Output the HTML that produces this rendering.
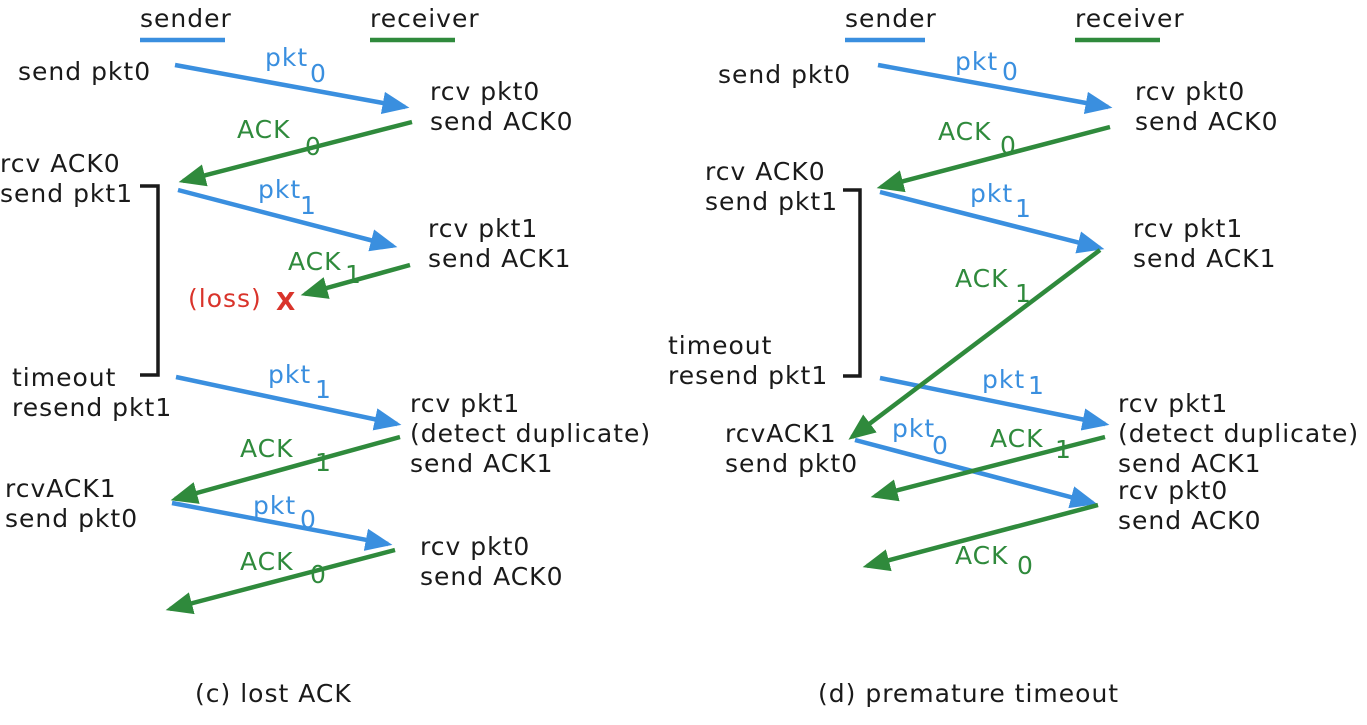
<!DOCTYPE html>
<html><head><meta charset="utf-8"><style>
html,body{margin:0;padding:0;background:#fff;}
svg text{font-family:"DejaVu Sans","Liberation Sans",sans-serif;font-size:25px;letter-spacing:1px;}
.k{fill:#1a1a1a}.b{fill:#3a8fdf}.g{fill:#2f8a3c}.r{fill:#d9342b}
</style></head><body>
<svg width="1367" height="720" viewBox="0 0 1367 720" xmlns="http://www.w3.org/2000/svg">
<defs>
<marker id="ab" markerWidth="6" markerHeight="6" refX="5" refY="3" orient="auto" markerUnits="strokeWidth"><path d="M0,0.5 L6,3 L0,5.5 Z" fill="#3a8fdf"/></marker>
<marker id="ag" markerWidth="6" markerHeight="6" refX="5" refY="3" orient="auto" markerUnits="strokeWidth"><path d="M0,0.5 L6,3 L0,5.5 Z" fill="#2f8a3c"/></marker>
</defs>
<g stroke-width="4.5" fill="none">
<line x1="140" y1="40" x2="225" y2="40" stroke="#3a8fdf"/>
<line x1="370" y1="40" x2="455" y2="40" stroke="#2f8a3c"/>
<line x1="845" y1="40" x2="925" y2="40" stroke="#3a8fdf"/>
<line x1="1075" y1="40" x2="1160" y2="40" stroke="#2f8a3c"/>
<g stroke="#3a8fdf" marker-end="url(#ab)">
<line x1="175" y1="65" x2="405" y2="107"/>
<line x1="178" y1="190" x2="393" y2="246"/>
<line x1="176" y1="377" x2="397" y2="424"/>
<line x1="172" y1="503" x2="388" y2="544"/>
<line x1="878" y1="65" x2="1108" y2="107"/>
<line x1="880" y1="192" x2="1100" y2="248"/>
<line x1="880" y1="378" x2="1105" y2="424"/>
<line x1="855" y1="440" x2="1093" y2="503"/>
</g>
<g stroke="#2f8a3c" marker-end="url(#ag)">
<line x1="412" y1="122" x2="183" y2="181"/>
<line x1="410" y1="265" x2="305" y2="294"/>
<line x1="400" y1="437" x2="175" y2="499"/>
<line x1="395" y1="550" x2="170" y2="609"/>
<line x1="1110" y1="127" x2="881" y2="187"/>
<line x1="1100" y1="250" x2="852" y2="437"/>
<line x1="1105" y1="437" x2="875" y2="496"/>
<line x1="1098" y1="505" x2="867" y2="566"/>
</g>
<path d="M140,186 H158 V375 H140" stroke="#1a1a1a" stroke-width="3.5"/>
<path d="M843,190 H860 V376 H843" stroke="#1a1a1a" stroke-width="3.5"/>
</g>
<text x="140" y="27" class="k">sender</text>
<text x="370" y="27" class="k">receiver</text>
<text x="845" y="27" class="k">sender</text>
<text x="1075" y="27" class="k">receiver</text>

<text x="18" y="80" class="k">send pkt0</text>
<text x="265" y="66" class="b">pkt</text><text x="310" y="82" class="b">0</text>
<text x="430" y="100" class="k">rcv pkt0</text><text x="430" y="130" class="k">send ACK0</text>
<text x="237" y="138" class="g">ACK</text><text x="305" y="155" class="g">0</text>
<text x="0" y="172" class="k">rcv ACK0</text><text x="0" y="202" class="k">send pkt1</text>
<text x="258" y="198" class="b">pkt</text><text x="300" y="214" class="b">1</text>
<text x="428" y="237" class="k">rcv pkt1</text><text x="428" y="267" class="k">send ACK1</text>
<text x="288" y="270" class="g">ACK</text><text x="345" y="283" class="g">1</text>
<text x="188" y="307" class="r">(loss)</text><text x="276" y="310" class="r" font-size="30" font-weight="bold">X</text>
<text x="12" y="386" class="k">timeout</text><text x="12" y="416" class="k">resend pkt1</text>
<text x="268" y="383" class="b">pkt</text><text x="315" y="398" class="b">1</text>
<text x="410" y="412" class="k">rcv pkt1</text><text x="410" y="442" class="k">(detect duplicate)</text><text x="410" y="472" class="k">send ACK1</text>
<text x="240" y="457" class="g">ACK</text><text x="315" y="471" class="g">1</text>
<text x="5" y="497" class="k">rcvACK1</text><text x="5" y="527" class="k">send pkt0</text>
<text x="253" y="514" class="b">pkt</text><text x="300" y="528" class="b">0</text>
<text x="420" y="555" class="k">rcv pkt0</text><text x="420" y="585" class="k">send ACK0</text>
<text x="240" y="570" class="g">ACK</text><text x="310" y="583" class="g">0</text>
<text x="195" y="702" class="k">(c) lost ACK</text>

<text x="718" y="83" class="k">send pkt0</text>
<text x="955" y="70" class="b">pkt</text><text x="1002" y="80" class="b">0</text>
<text x="1135" y="100" class="k">rcv pkt0</text><text x="1135" y="130" class="k">send ACK0</text>
<text x="938" y="140" class="g">ACK</text><text x="1000" y="154" class="g">0</text>
<text x="705" y="180" class="k">rcv ACK0</text><text x="705" y="210" class="k">send pkt1</text>
<text x="970" y="202" class="b">pkt</text><text x="1015" y="217" class="b">1</text>
<text x="1133" y="237" class="k">rcv pkt1</text><text x="1133" y="267" class="k">send ACK1</text>
<text x="955" y="287" class="g">ACK</text><text x="1015" y="302" class="g">1</text>
<text x="668" y="354" class="k">timeout</text><text x="668" y="384" class="k">resend pkt1</text>
<text x="982" y="388" class="b">pkt</text><text x="1028" y="394" class="b">1</text>
<text x="1118" y="412" class="k">rcv pkt1</text><text x="1118" y="442" class="k">(detect duplicate)</text><text x="1118" y="472" class="k">send ACK1</text>
<text x="725" y="442" class="k">rcvACK1</text><text x="725" y="472" class="k">send pkt0</text>
<text x="892" y="437" class="b">pkt</text><text x="932" y="454" class="b">0</text>
<text x="990" y="447" class="g">ACK</text><text x="1055" y="458" class="g">1</text>
<text x="1118" y="499" class="k">rcv pkt0</text><text x="1118" y="529" class="k">send ACK0</text>
<text x="955" y="564" class="g">ACK</text><text x="1017" y="574" class="g">0</text>
<text x="818" y="702" class="k">(d) premature timeout</text>
</svg>
</body></html>
